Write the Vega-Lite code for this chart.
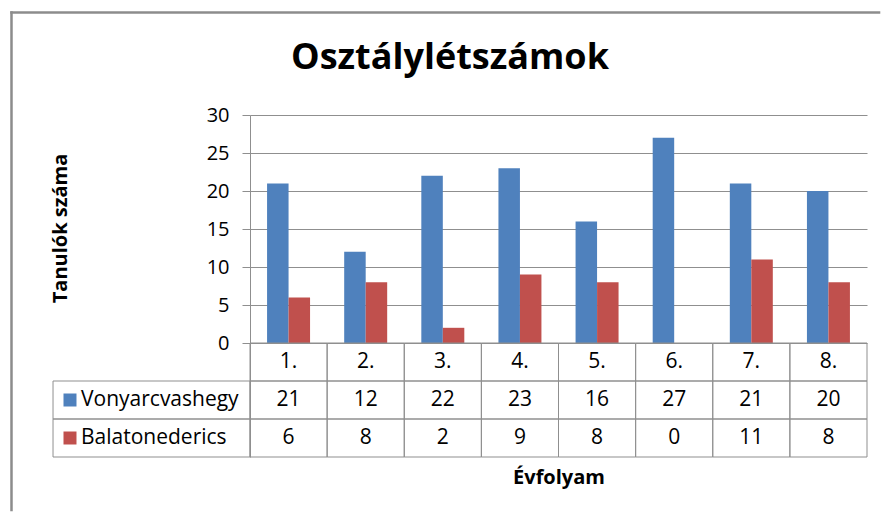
{
  "$schema": "https://vega.github.io/schema/vega-lite/v6.json",
  "width": 617,
  "height": 342,
  "padding": {"left": 9, "top": 10, "right": 0, "bottom": 0},
  "background": "white",
  "config": {"view": {"stroke": null}, "font": "Open Sans"},
  "datasets": {
    "counts": [
      {"grade": "1.", "school": "Vonyarcvashegy", "students": 21},
      {"grade": "2.", "school": "Vonyarcvashegy", "students": 12},
      {"grade": "3.", "school": "Vonyarcvashegy", "students": 22},
      {"grade": "4.", "school": "Vonyarcvashegy", "students": 23},
      {"grade": "5.", "school": "Vonyarcvashegy", "students": 16},
      {"grade": "6.", "school": "Vonyarcvashegy", "students": 27},
      {"grade": "7.", "school": "Vonyarcvashegy", "students": 21},
      {"grade": "8.", "school": "Vonyarcvashegy", "students": 20},
      {"grade": "1.", "school": "Balatonederics", "students": 6},
      {"grade": "2.", "school": "Balatonederics", "students": 8},
      {"grade": "3.", "school": "Balatonederics", "students": 2},
      {"grade": "4.", "school": "Balatonederics", "students": 9},
      {"grade": "5.", "school": "Balatonederics", "students": 8},
      {"grade": "6.", "school": "Balatonederics", "students": 0},
      {"grade": "7.", "school": "Balatonederics", "students": 11},
      {"grade": "8.", "school": "Balatonederics", "students": 8}
    ]
  },
  "data": {"name": "counts"},
  "resolve": {"scale": {"x": "independent"}},
  "layer": [
    {
      "mark": {"type": "bar"},
      "encoding": {
        "x": {
          "field": "grade", "type": "nominal", "sort": null,
          "scale": {"paddingInner": 0, "paddingOuter": 0},
          "axis": {
            "title": "Évfolyam", "labels": false, "ticks": false, "domain": false, "grid": false,
            "titleFont": "Open Sans", "titleFontWeight": "bold", "titleFontSize": 20,
            "titleColor": "#000000", "titlePadding": 10
          }
        },
        "xOffset": {
          "field": "school", "type": "nominal", "sort": ["Vonyarcvashegy", "Balatonederics"],
          "scale": {"paddingInner": 0, "paddingOuter": 0.794}
        },
        "y": {
          "field": "students", "type": "quantitative",
          "scale": {"domain": [-15, 30], "nice": false, "zero": false},
          "axis": {
            "title": "Tanulók száma",
            "values": [0, 5, 10, 15, 20, 25, 30],
            "grid": true, "gridColor": "#8f8f8f", "gridWidth": 1,
            "domainColor": "#8f8f8f", "tickColor": "#8f8f8f", "tickSize": 8,
            "labelPadding": 13, "labelFont": "Open Sans", "labelFontSize": 20, "labelColor": "#000000",
            "titleFont": "Open Sans", "titleFontWeight": "bold", "titleFontSize": 20, "titleColor": "#000000",
            "titleX": -184, "titleY": 113, "titleAngle": -90, "titleBaseline": "alphabetic", "titleAlign": "center"
          }
        },
        "y2": {"datum": 0},
        "color": {
          "field": "school", "type": "nominal",
          "scale": {"domain": ["Vonyarcvashegy", "Balatonederics"], "range": ["#4F81BD", "#C0504D"]},
          "legend": null
        }
      }
    },
    {
      "transform": [{"filter": "datum.school === 'Vonyarcvashegy'"}],
      "layer": [
        {
          "mark": {"type": "rect", "fillOpacity": 0, "stroke": "#8f8f8f", "strokeWidth": 1},
          "encoding": {
            "x": {"field": "grade", "type": "nominal", "sort": null, "scale": {"paddingInner": 0, "paddingOuter": 0}, "axis": null},
            "y": {"datum": 0, "scale": {"domain": [-15, 30], "nice": false, "zero": false}},
            "y2": {"datum": -5}
          }
        },
        {
          "mark": {"type": "text", "font": "Open Sans", "fontSize": 21, "color": "#000000", "baseline": "middle"},
          "encoding": {
            "x": {"field": "grade", "type": "nominal", "sort": null, "scale": {"paddingInner": 0, "paddingOuter": 0}, "axis": null},
            "y": {"datum": -2.5, "scale": {"domain": [-15, 30], "nice": false, "zero": false}},
            "text": {"field": "grade"}
          }
        },
        {
          "mark": {"type": "rect", "fillOpacity": 0, "stroke": "#8f8f8f", "strokeWidth": 1},
          "encoding": {
            "x": {"field": "grade", "type": "nominal", "sort": null, "scale": {"paddingInner": 0, "paddingOuter": 0}, "axis": null},
            "y": {"datum": -5, "scale": {"domain": [-15, 30], "nice": false, "zero": false}},
            "y2": {"datum": -10}
          }
        },
        {
          "mark": {"type": "text", "font": "Open Sans", "fontSize": 21, "color": "#000000", "baseline": "middle"},
          "encoding": {
            "x": {"field": "grade", "type": "nominal", "sort": null, "scale": {"paddingInner": 0, "paddingOuter": 0}, "axis": null},
            "y": {"datum": -7.5, "scale": {"domain": [-15, 30], "nice": false, "zero": false}},
            "text": {"field": "students"}
          }
        }
      ]
    },
    {
      "transform": [{"filter": "datum.school === 'Balatonederics'"}],
      "layer": [
        {
          "mark": {"type": "rect", "fillOpacity": 0, "stroke": "#8f8f8f", "strokeWidth": 1},
          "encoding": {
            "x": {"field": "grade", "type": "nominal", "sort": null, "scale": {"paddingInner": 0, "paddingOuter": 0}, "axis": null},
            "y": {"datum": -10, "scale": {"domain": [-15, 30], "nice": false, "zero": false}},
            "y2": {"datum": -15}
          }
        },
        {
          "mark": {"type": "text", "font": "Open Sans", "fontSize": 21, "color": "#000000", "baseline": "middle"},
          "encoding": {
            "x": {"field": "grade", "type": "nominal", "sort": null, "scale": {"paddingInner": 0, "paddingOuter": 0}, "axis": null},
            "y": {"datum": -12.5, "scale": {"domain": [-15, 30], "nice": false, "zero": false}},
            "text": {"field": "students"}
          }
        }
      ]
    },
    {
      "transform": [{"filter": "datum.grade === '1.'"}],
      "layer": [
        {
          "transform": [{"filter": "datum.school === 'Vonyarcvashegy'"}],
          "layer": [
            {
              "mark": {"type": "rect", "fillOpacity": 0, "stroke": "#8f8f8f", "strokeWidth": 1},
              "encoding": {
                "x": {"datum": -2.554, "type": "quantitative", "scale": {"domain": [0, 8], "nice": false, "zero": false}, "axis": null},
                "x2": {"datum": 0},
                "y": {"datum": -5, "scale": {"domain": [-15, 30], "nice": false, "zero": false}},
                "y2": {"datum": -10}
              }
            },
            {
              "mark": {"type": "point", "shape": "square", "filled": true, "size": 169, "opacity": 1},
              "encoding": {
                "x": {"datum": -2.334, "type": "quantitative", "scale": {"domain": [0, 8], "nice": false, "zero": false}, "axis": null},
                "y": {"datum": -7.5, "scale": {"domain": [-15, 30], "nice": false, "zero": false}},
                "color": {"field": "school", "type": "nominal", "legend": null}
              }
            },
            {
              "mark": {"type": "text", "font": "Open Sans", "fontSize": 21, "color": "#000000", "baseline": "middle", "align": "left"},
              "encoding": {
                "x": {"datum": -2.191, "type": "quantitative", "scale": {"domain": [0, 8], "nice": false, "zero": false}, "axis": null},
                "y": {"datum": -7.5, "scale": {"domain": [-15, 30], "nice": false, "zero": false}},
                "text": {"field": "school"}
              }
            },
            {
              "mark": {"type": "rule", "color": "#8c8c8c", "strokeWidth": 2.5, "strokeCap": "square"},
              "encoding": {
                "x": {"datum": -3.0924, "type": "quantitative", "scale": {"domain": [0, 8], "nice": false, "zero": false}, "axis": null},
                "x2": {"datum": 8.156},
                "y": {"datum": 43.487, "scale": {"domain": [-15, 30], "nice": false, "zero": false}}
              }
            },
            {
              "mark": {"type": "rule", "color": "#8c8c8c", "strokeWidth": 2.5, "strokeCap": "square"},
              "encoding": {
                "x": {"datum": -3.0924, "type": "quantitative", "scale": {"domain": [0, 8], "nice": false, "zero": false}, "axis": null},
                "y": {"datum": 43.487, "scale": {"domain": [-15, 30], "nice": false, "zero": false}},
                "y2": {"datum": -21.97}
              }
            },
            {
              "mark": {"type": "text", "text": "Osztálylétszámok", "font": "Open Sans", "fontWeight": "bold", "fontSize": 36, "color": "#000000", "align": "center", "baseline": "alphabetic"},
              "encoding": {
                "x": {"datum": 2.593, "type": "quantitative", "scale": {"domain": [0, 8], "nice": false, "zero": false}, "axis": null},
                "y": {"datum": 36.05, "scale": {"domain": [-15, 30], "nice": false, "zero": false}}
              }
            }
          ]
        },
        {
          "transform": [{"filter": "datum.school === 'Balatonederics'"}],
          "layer": [
            {
              "mark": {"type": "rect", "fillOpacity": 0, "stroke": "#8f8f8f", "strokeWidth": 1},
              "encoding": {
                "x": {"datum": -2.554, "type": "quantitative", "scale": {"domain": [0, 8], "nice": false, "zero": false}, "axis": null},
                "x2": {"datum": 0},
                "y": {"datum": -10, "scale": {"domain": [-15, 30], "nice": false, "zero": false}},
                "y2": {"datum": -15}
              }
            },
            {
              "mark": {"type": "point", "shape": "square", "filled": true, "size": 169, "opacity": 1},
              "encoding": {
                "x": {"datum": -2.334, "type": "quantitative", "scale": {"domain": [0, 8], "nice": false, "zero": false}, "axis": null},
                "y": {"datum": -12.5, "scale": {"domain": [-15, 30], "nice": false, "zero": false}},
                "color": {"field": "school", "type": "nominal", "legend": null}
              }
            },
            {
              "mark": {"type": "text", "font": "Open Sans", "fontSize": 21, "color": "#000000", "baseline": "middle", "align": "left"},
              "encoding": {
                "x": {"datum": -2.191, "type": "quantitative", "scale": {"domain": [0, 8], "nice": false, "zero": false}, "axis": null},
                "y": {"datum": -12.5, "scale": {"domain": [-15, 30], "nice": false, "zero": false}},
                "text": {"field": "school"}
              }
            }
          ]
        }
      ]
    }
  ]
}
